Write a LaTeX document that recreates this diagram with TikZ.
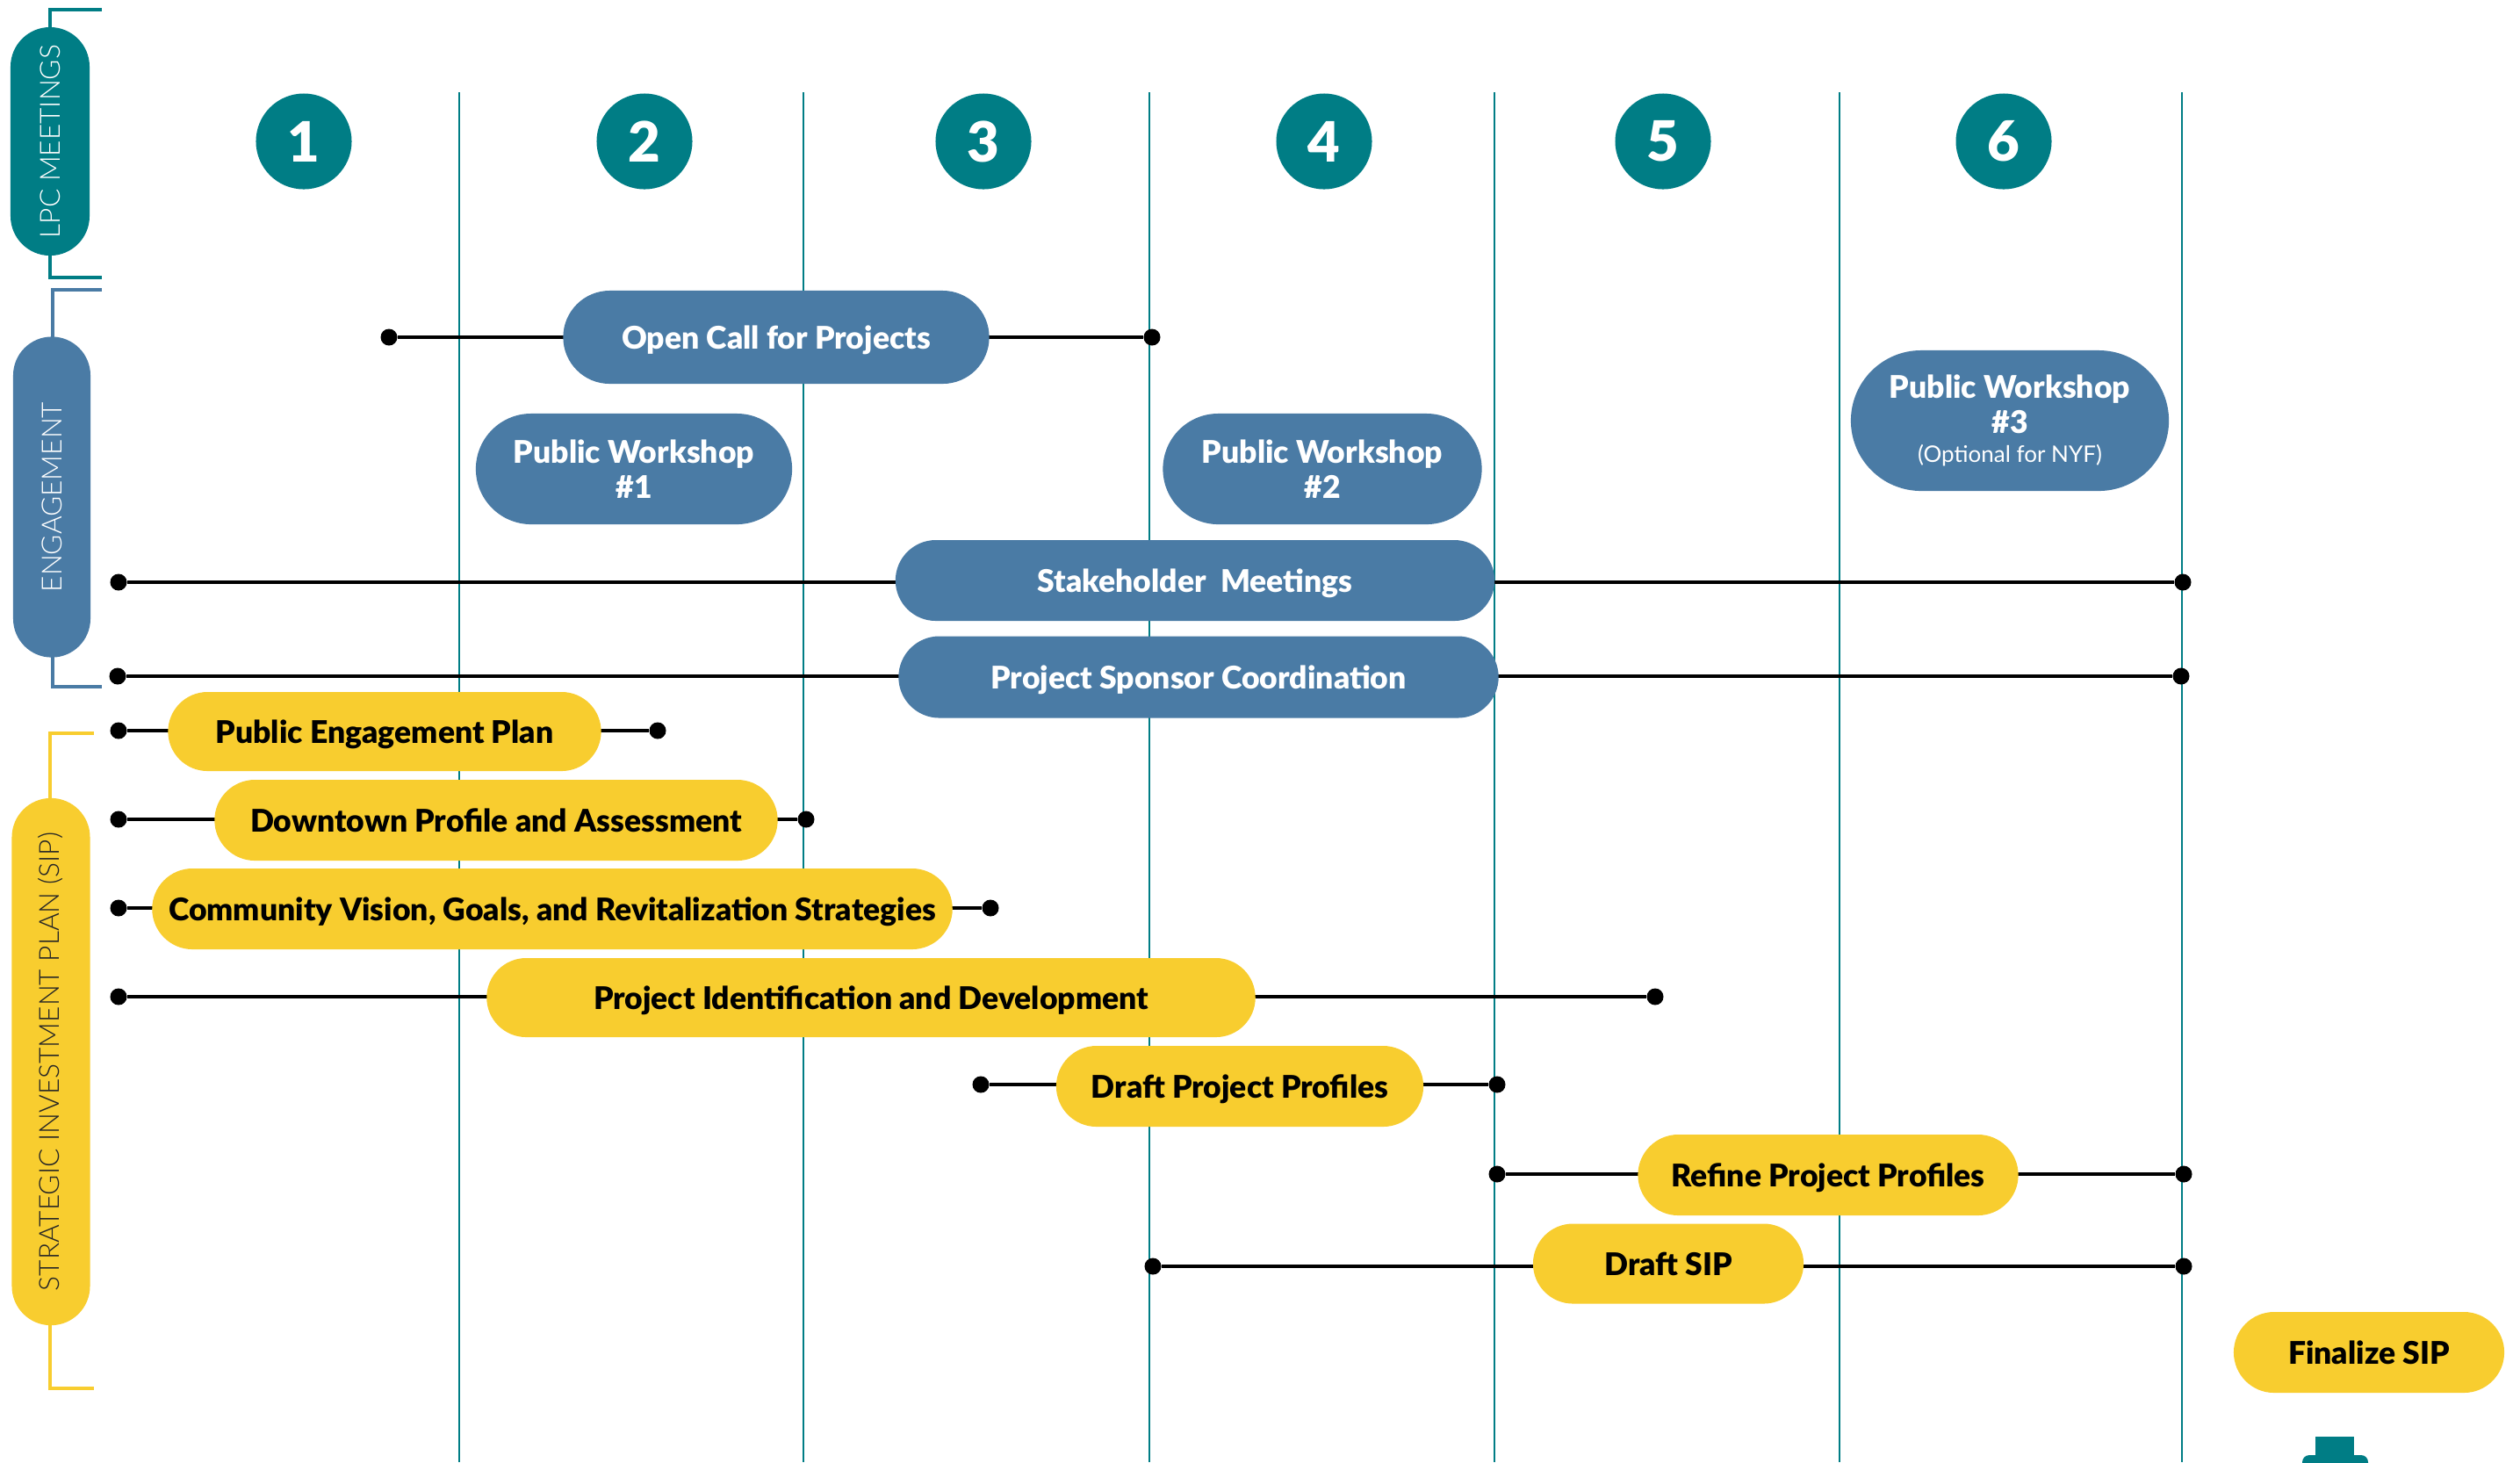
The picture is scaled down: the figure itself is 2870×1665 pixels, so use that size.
\documentclass[tikz,border=0pt]{standalone}
\usepackage{fontspec}
\setmainfont{Lato}
\newfontfamily\blackfont{Lato Black}
\newfontfamily\lightfont{Lato Light}
\usetikzlibrary{shapes.misc}

\definecolor{lpcteal}{RGB}{0,125,133}
\definecolor{engblue}{RGB}{74,123,165}
\definecolor{sipyellow}{RGB}{248,205,47}

\tikzset{
  grid line/.style={draw=lpcteal, line width=0.45pt},
  bar/.style={draw=black, line width=1.3pt},
  dot/.style={circle, fill=black, inner sep=0pt, minimum size=0.19cm},
  bluepill/.style={rounded rectangle, fill=engblue, text=white, inner sep=0pt,
    align=center, font=\blackfont\fontsize{10.1}{11.3}\selectfont},
  yellowpill/.style={rounded rectangle, fill=sipyellow, text=black, inner sep=0pt,
    align=center, font=\blackfont\fontsize{10.1}{11.3}\selectfont},
  oneline/.style={text height=7.9pt, text depth=0pt},
  numcircle/.style={circle, fill=lpcteal, text=white, inner sep=0pt,
    minimum size=1.09cm, font=\blackfont\fontsize{18}{18}\selectfont},
  sidepill/.style={rounded rectangle, rotate=90, inner sep=0pt,
    font=\lightfont\fontsize{9}{9}\selectfont},
}

\begin{document}
\begin{tikzpicture}[x=0.01cm, y=-0.01cm]
\useasboundingbox (0,0) rectangle (2870,1665);
\clip (0,0) rectangle (2870,1665);

% phase lines and meeting numbers
\foreach \x in {523,915,1309,1702,2095,2485}
  \draw[grid line] (\x,105) -- (\x,1665);
\foreach \n/\x in {1/346,2/734,3/1120,4/1508,5/1894,6/2282}
  \node[numcircle] (lpc\n) at (\x,161) {\n};

% group brackets
\draw[lpcteal, line width=1.15pt] (116,11) -- (57,11) -- (57,316) -- (116,316);
\node[sidepill, fill=lpcteal, text=white, minimum width=2.6cm, minimum height=0.9cm]
  (lpc) at (57,161) {LPC MEETINGS};
\draw[engblue, line width=1.15pt] (116,330) -- (60,330) -- (60,782) -- (116,782);
\node[sidepill, fill=engblue, text=white, minimum width=3.65cm, minimum height=0.88cm]
  (eng) at (59,566) {ENGAGEMENT};
\draw[sipyellow, line width=1.15pt] (107,835) -- (57,835) -- (57,1581) -- (107,1581);
\node[sidepill, fill=sipyellow, text=black!85, minimum width=6cm, minimum height=0.89cm]
  (sip) at (58,1209) {STRATEGIC INVESTMENT PLAN (SIP)};

% end points
\foreach \name/\x/\y in {oc-a/443/384, oc-b/1312/384,
    sm-a/135/663, sm-b/2486/663, ps-a/134/770, ps-b/2484/770,
    pe-a/135/832, pe-b/749/832, dp-a/135/933, dp-b/918/933,
    cv-a/135/1034, cv-b/1128/1034, pi-a/135/1135, pi-b/1885/1135,
    pp-a/1117/1235, pp-b/1705/1235, rp-a/1705/1337, rp-b/2487/1337,
    ds-a/1313/1442, ds-b/2487/1442}
  \node[dot] (\name) at (\x,\y) {};

% connectors
\foreach \t in {oc,sm,ps,pe,dp,cv,pi,pp,rp,ds}
  \draw[bar] (\t-a) -- (\t-b);

% engagement
\node[bluepill, oneline, minimum width=4.85cm, minimum height=1.06cm] (opencall) at (884,384)
  {Open Call for Projects};
\node[bluepill, minimum width=3.6cm, minimum height=1.26cm] (pw1) at (722,534)
  {Public Workshop\\\#1};
\node[bluepill, minimum width=3.63cm, minimum height=1.26cm] (pw2) at (1506,534)
  {Public Workshop\\\#2};
\node[bluepill, minimum width=3.62cm, minimum height=1.6cm] (pw3) at (2289,479)
  {Public Workshop\\\#3\\[-2pt]{\normalfont\fontsize{7.4}{9}\selectfont(Optional for NYF)}};
\node[bluepill, oneline, minimum width=6.82cm, minimum height=0.92cm] (stake) at (1361,661)
  {Stakeholder\ \ Meetings};
\node[bluepill, oneline, minimum width=6.83cm, minimum height=0.93cm] (sponsor) at (1365,771)
  {Project Sponsor Coordination};

% strategic investment plan
\node[yellowpill, oneline, minimum width=4.93cm, minimum height=0.9cm] (pep) at (438,833)
  {Public Engagement Plan};
\node[yellowpill, oneline, minimum width=6.41cm, minimum height=0.92cm] (dpa) at (565,934)
  {Downtown Profile and Assessment};
\node[yellowpill, oneline, minimum width=9.11cm, minimum height=0.92cm] (cvg) at (629,1035)
  {Community Vision, Goals, and Revitalization Strategies};
\node[yellowpill, oneline, minimum width=8.75cm, minimum height=0.9cm] (pid) at (992,1136)
  {Project Identification and Development};
\node[yellowpill, oneline, minimum width=4.18cm, minimum height=0.92cm] (dpp) at (1412,1237)
  {Draft Project Profiles};
\node[yellowpill, oneline, minimum width=4.33cm, minimum height=0.92cm] (rpp) at (2082,1338)
  {Refine Project Profiles};
\node[yellowpill, oneline, minimum width=3.08cm, minimum height=0.91cm] (dsip) at (1900,1439)
  {Draft SIP};
\node[yellowpill, oneline, minimum width=3.08cm, minimum height=0.92cm] (fsip) at (2698,1540)
  {Finalize SIP};

% cut-off mark at the bottom
\fill[lpcteal] (2637,1636) rectangle (2681,1665);
\fill[lpcteal, rounded corners=0.08cm] (2622,1657) rectangle (2697,1700);
\end{tikzpicture}
\end{document}
